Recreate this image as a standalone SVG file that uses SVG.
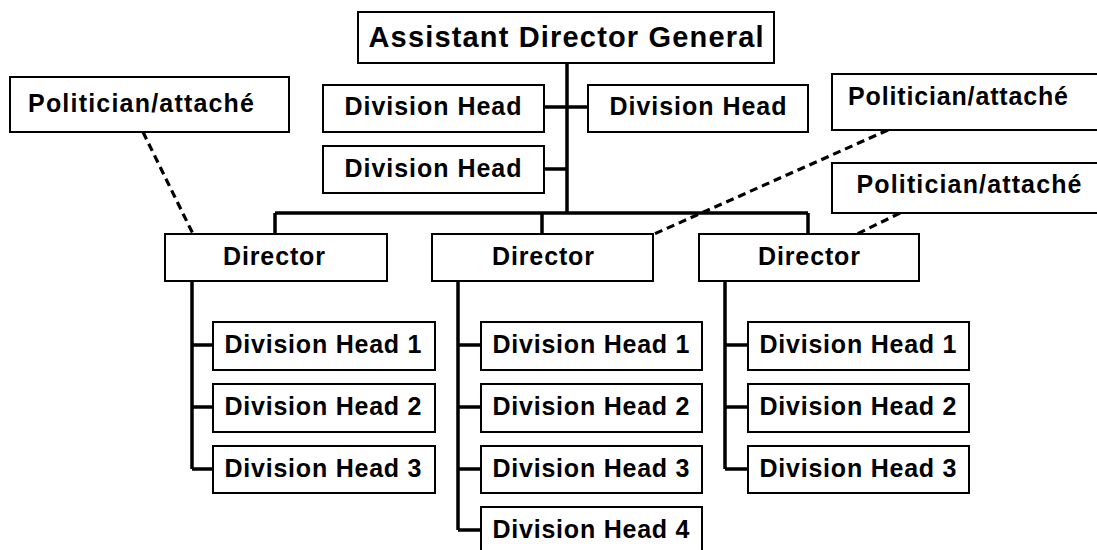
<svg xmlns="http://www.w3.org/2000/svg" width="1097" height="550" viewBox="0 0 1097 550">
  <style>
    .box { fill: #ffffff; stroke: #000000; stroke-width: 2; }
    .lbl { font-family: "Liberation Sans", Arial, sans-serif; font-weight: bold; font-size: 25px; fill: #000000; text-anchor: middle; }
    .big { font-size: 29px; }
    .link { fill: none; stroke: #000000; stroke-width: 3.5; }
    .dash { fill: none; stroke: #000000; stroke-width: 3.2; stroke-dasharray: 8 5; }
  </style>
  <rect width="1097" height="550" fill="#ffffff"/>

  <!-- connectors -->
  <g id="connectors">
    <path class="link" d="M567,63 V213 M544,107 H588 M544,169 H567 M275,213 H808 M275,213 V234 M542,213 V234 M808,213 V234"/>
    <path class="link" d="M192,281 V469 M192,345 H213 M192,407 H213 M192,469 H213"/>
    <path class="link" d="M458,281 V530 M458,345 H481 M458,407 H481 M458,469 H481 M458,530 H481"/>
    <path class="link" d="M725,281 V469 M725,345 H748 M725,407 H748 M725,469 H748"/>
    <path class="dash" d="M143,132 L193,234"/>
    <path class="dash" d="M888,130 L652,235"/>
    <path class="dash" d="M900,213 L855,235"/>
  </g>

  <g id="adg">
    <rect class="box" x="358" y="12" width="416" height="51"/>
    <text class="lbl big" x="566" y="47" textLength="395" lengthAdjust="spacing">Assistant Director General</text>
  </g>

  <g id="div-head-a">
    <rect class="box" x="323" y="85" width="221" height="47"/>
    <text class="lbl" x="433" y="115" textLength="177" lengthAdjust="spacing">Division Head</text>
  </g>
  <g id="div-head-b">
    <rect class="box" x="588" y="85" width="220" height="47"/>
    <text class="lbl" x="698" y="115" textLength="177" lengthAdjust="spacing">Division Head</text>
  </g>
  <g id="div-head-c">
    <rect class="box" x="323" y="146" width="221" height="47"/>
    <text class="lbl" x="433" y="177" textLength="177" lengthAdjust="spacing">Division Head</text>
  </g>

  <g id="politician-1">
    <rect class="box" x="10" y="77" width="279" height="55"/>
    <text class="lbl" x="141" y="112" textLength="226" lengthAdjust="spacing">Politician/attaché</text>
  </g>
  <g id="politician-2">
    <rect class="box" x="832" y="74" width="266" height="56"/>
    <text class="lbl" x="958" y="105" textLength="220" lengthAdjust="spacing">Politician/attaché</text>
  </g>
  <g id="politician-3">
    <rect class="box" x="832" y="163" width="266" height="50"/>
    <text class="lbl" x="969" y="193" textLength="225" lengthAdjust="spacing">Politician/attaché</text>
  </g>

  <g id="director-1">
    <rect class="box" x="165" y="234" width="222" height="47"/>
    <text class="lbl" x="274" y="265" textLength="102" lengthAdjust="spacing">Director</text>
  </g>
  <g id="director-2">
    <rect class="box" x="432" y="234" width="221" height="47"/>
    <text class="lbl" x="543" y="265" textLength="102" lengthAdjust="spacing">Director</text>
  </g>
  <g id="director-3">
    <rect class="box" x="699" y="234" width="220" height="47"/>
    <text class="lbl" x="809" y="265" textLength="102" lengthAdjust="spacing">Director</text>
  </g>

  <g id="d1-head-1"><rect class="box" x="213" y="322" width="222" height="48"/><text class="lbl" x="323" y="353" textLength="197" lengthAdjust="spacing">Division Head 1</text></g>
  <g id="d1-head-2"><rect class="box" x="213" y="384" width="222" height="48"/><text class="lbl" x="323" y="415" textLength="197" lengthAdjust="spacing">Division Head 2</text></g>
  <g id="d1-head-3"><rect class="box" x="213" y="446" width="222" height="47"/><text class="lbl" x="323" y="477" textLength="197" lengthAdjust="spacing">Division Head 3</text></g>

  <g id="d2-head-1"><rect class="box" x="481" y="322" width="221" height="48"/><text class="lbl" x="591" y="353" textLength="197" lengthAdjust="spacing">Division Head 1</text></g>
  <g id="d2-head-2"><rect class="box" x="481" y="384" width="221" height="48"/><text class="lbl" x="591" y="415" textLength="197" lengthAdjust="spacing">Division Head 2</text></g>
  <g id="d2-head-3"><rect class="box" x="481" y="446" width="221" height="47"/><text class="lbl" x="591" y="477" textLength="197" lengthAdjust="spacing">Division Head 3</text></g>
  <g id="d2-head-4"><rect class="box" x="481" y="507" width="221" height="48"/><text class="lbl" x="591" y="538" textLength="197" lengthAdjust="spacing">Division Head 4</text></g>

  <g id="d3-head-1"><rect class="box" x="748" y="322" width="221" height="48"/><text class="lbl" x="858" y="353" textLength="197" lengthAdjust="spacing">Division Head 1</text></g>
  <g id="d3-head-2"><rect class="box" x="748" y="384" width="221" height="48"/><text class="lbl" x="858" y="415" textLength="197" lengthAdjust="spacing">Division Head 2</text></g>
  <g id="d3-head-3"><rect class="box" x="748" y="446" width="221" height="47"/><text class="lbl" x="858" y="477" textLength="197" lengthAdjust="spacing">Division Head 3</text></g>
</svg>
